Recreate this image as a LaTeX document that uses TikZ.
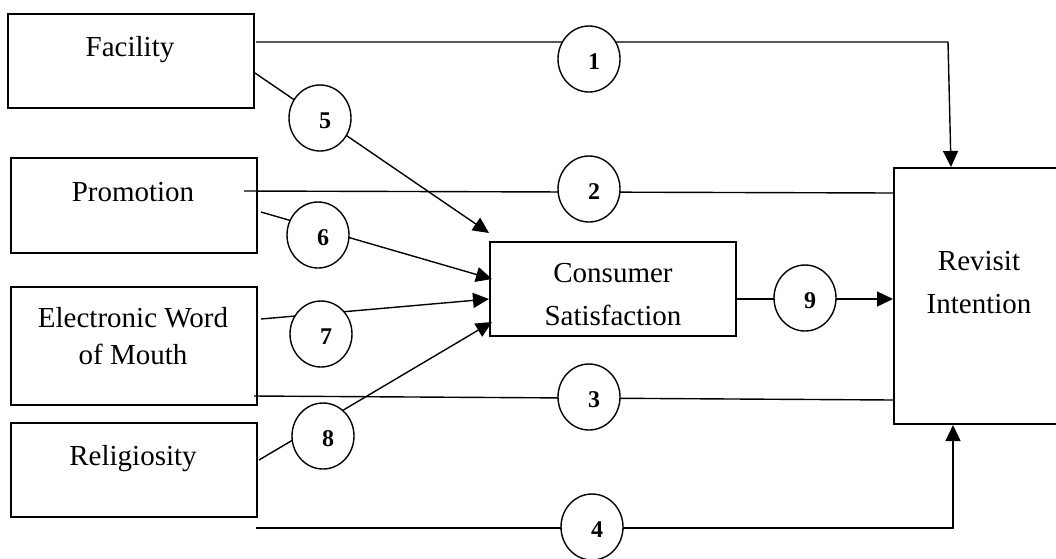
\documentclass[tikz,border=0pt]{standalone}
\usepackage{fontspec}
\setmainfont{Liberation Serif}
\usetikzlibrary{arrows.meta,shapes.geometric}
\begin{document}
\begin{tikzpicture}[x=1pt,y=-1pt,
  box/.style={draw,line width=1.6pt,minimum width=246pt,inner sep=0pt},
  lbl/.style={font=\fontsize{29}{34}\selectfont,anchor=base,inner sep=0pt},
  circ/.style={draw,ellipse,line width=1.4pt,fill=white,minimum width=62pt,minimum height=66pt,inner sep=0pt},
  num/.style={font=\fontsize{24}{28}\selectfont\bfseries,inner sep=0pt},
  conn/.style={line width=1.4pt},
  arr/.style={conn,-{Triangle[length=16pt,width=15pt]}}]
\useasboundingbox (0,0) rectangle (1056,558);
% boxes
\node[box,minimum height=94pt] (fac) at (131,61) {};
\node[box,minimum height=95pt] (pro) at (134,205.5) {};
\node[box,minimum height=118pt] (ewom) at (134,346) {};
\node[box,minimum height=94pt] (rel) at (134,470) {};
\node[box,minimum height=94pt] (cs) at (613,289) {};
\node[draw,line width=1.6pt,minimum width=166pt,minimum height=256pt,inner sep=0pt] (ri) at (977,296) {};
% texts
\node[lbl] (fact) at (130,56) {Facility};
\node[lbl] (prot) at (133,201) {Promotion};
\node[lbl] (ewomta) at (133,327) {Electronic Word};
\node[lbl] (ewomtb) at (133,364) {of Mouth};
\node[lbl] (relt) at (133,465) {Religiosity};
\node[lbl] (csta) at (613,282) {Consumer};
\node[lbl] (cstb) at (613,325) {Satisfaction};
\node[lbl] (rita) at (979,270) {Revisit};
\node[lbl] (ritb) at (979,313) {Intention};
% connector ends
\coordinate (s1) at (256,42);  \coordinate (k1) at (948,42);  \coordinate (e1) at (951,167);
\coordinate (s2) at (244,191); \coordinate (e2) at (894,193);
\coordinate (s3) at (254,396); \coordinate (e3) at (894,400);
\coordinate (s4) at (256,528); \coordinate (k4) at (953,528); \coordinate (e4) at (953,425);
\coordinate (s5) at (255,73);  \coordinate (e5) at (489,233);
\coordinate (s6) at (261,212); \coordinate (e6) at (492,279);
\coordinate (s7) at (261,319); \coordinate (e7) at (489,299);
\coordinate (s8) at (259,460); \coordinate (e8) at (492,322);
\coordinate (s9) at (737,299); \coordinate (e9) at (893,299);
% connectors
\draw[arr] (s1) -- (k1) -- (e1);
\draw[conn] (s2) -- (e2);
\draw[conn] (s3) -- (e3);
\draw[arr] (s4) -- (k4) -- (e4);
\draw[arr] (s5) -- (e5);
\draw[arr] (s6) -- (e6);
\draw[arr] (s7) -- (e7);
\draw[arr] (s8) -- (e8);
\draw[arr] (s9) -- (e9);
% circles
\node[circ] (c1) at (589,59) {};
\node[circ] (c2) at (589,189) {};
\node[circ] (c3) at (589,397) {};
\node[circ] (c4) at (592,527) {};
\node[circ] (c5) at (320,118) {};
\node[circ] (c6) at (318,235) {};
\node[circ] (c7) at (321,334) {};
\node[circ] (c8) at (323,436) {};
\node[circ] (c9) at (805,298) {};
\node[num] (n1) at ([shift={(5,3)}]c1.center) {1};
\node[num] (n2) at ([shift={(5,3)}]c2.center) {2};
\node[num] (n3) at ([shift={(5,3)}]c3.center) {3};
\node[num] (n4) at ([shift={(5,3)}]c4.center) {4};
\node[num] (n5) at ([shift={(5,3)}]c5.center) {5};
\node[num] (n6) at ([shift={(5,3)}]c6.center) {6};
\node[num] (n7) at ([shift={(5,3)}]c7.center) {7};
\node[num] (n8) at ([shift={(5,3)}]c8.center) {8};
\node[num] (n9) at ([shift={(5,3)}]c9.center) {9};
\end{tikzpicture}
\end{document}
